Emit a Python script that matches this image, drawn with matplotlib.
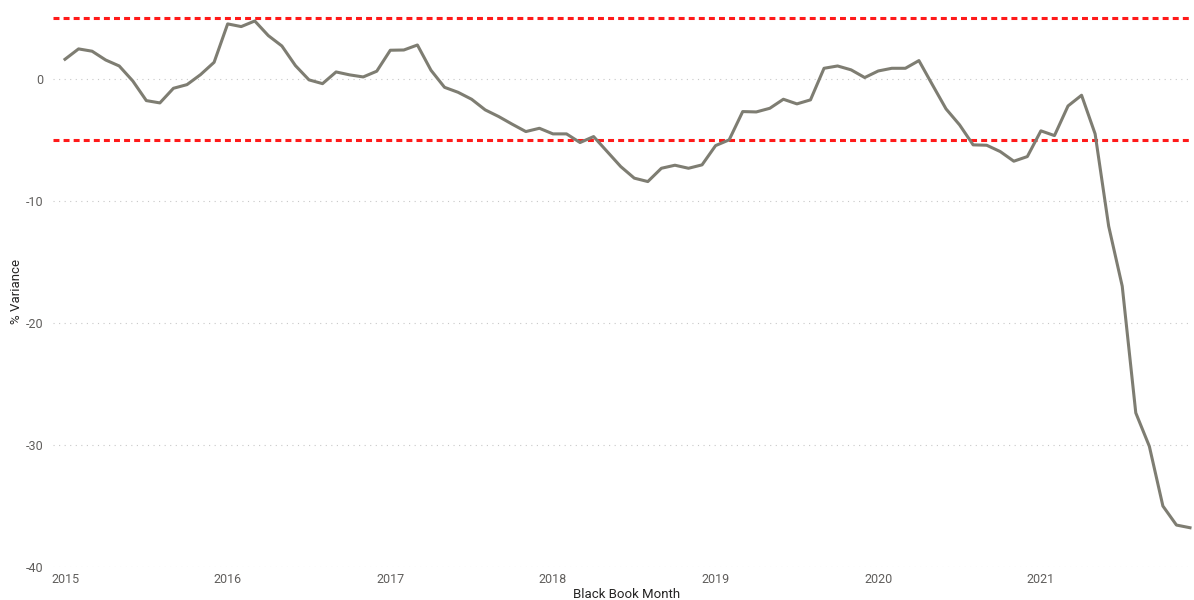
import matplotlib
matplotlib.use("Agg")
import matplotlib.pyplot as plt
import numpy as np

plt.rcParams['font.family'] = ['Roboto', 'DejaVu Sans']

years = ["2015", "2016", "2017", "2018", "2019", "2020", "2021"]
variance = [
    1.64, 2.49, 2.30, 1.58, 1.09, -0.14, -1.75, -1.94, -0.74, -0.44, 0.38, 1.39,
    4.54, 4.32, 4.78, 3.58, 2.73, 1.12, -0.05, -0.36, 0.60, 0.36, 0.19, 0.66,
    2.38, 2.40, 2.81, 0.74, -0.66, -1.07, -1.64, -2.51, -3.06, -3.69, -4.29, -4.02,
    -4.48, -4.48, -5.19, -4.70, -5.93, -7.16, -8.11, -8.39, -7.30, -7.05, -7.30, -7.02,
    -5.44, -4.97, -2.65, -2.68, -2.38, -1.64, -2.02, -1.69, 0.90, 1.09, 0.77, 0.14,
    0.68, 0.90, 0.90, 1.53, -0.46, -2.43, -3.74, -5.38, -5.41, -5.93, -6.72, -6.34,
    -4.23, -4.62, -2.19, -1.31, -4.48, -12.05, -16.97, -27.36, -30.10, -35.00, -36.56, -36.78,
]
upper_limit = 5
lower_limit = -5
yticks = [-40, -30, -20, -10, 0]

fig = plt.figure(figsize=(11.94, 6.0), dpi=100)
ax = fig.add_axes([53/1194, 1 - 567/600, (1192-53)/1194, (567-5)/600])

x = np.arange(len(variance))
ax.plot(x, variance, color='#7E7D72', lw=2.2, solid_joinstyle='round', zorder=3)
ax.axhline(upper_limit, color='#FF1A1A', lw=2.2, ls=(0, (1.95, 1.35)), zorder=2)
ax.axhline(lower_limit, color='#FF1A1A', lw=2.2, ls=(0, (1.95, 1.35)), zorder=2)

ax.set_xlim(-12/13.55, 83 + 2/13.55)
ax.set_ylim(-40, 6.09)
ax.set_yticks(yticks)
ax.set_yticklabels([str(v) for v in yticks])
ax.set_xticks(np.arange(len(years)) * 12)
ax.set_xticklabels(years)

ax.grid(axis='y', color='#C8C8C8', ls=(0, (1, 4)), lw=0.8)
ax.set_axisbelow(True)
for s in ax.spines.values():
    s.set_visible(False)
ax.tick_params(axis='both', length=0, colors='#605E5C', labelsize=9)
ax.tick_params(axis='y', pad=7)
ax.tick_params(axis='x', pad=4)

fig.text(627/1194, 1 - 595/600, "Black Book Month", fontsize=9.5, color='#252423',
         ha='center', va='center')
fig.text(16/1194, 1 - 292/600, "% Variance", fontsize=9.5, color='#252423',
         ha='center', va='center', rotation=90)

fig.savefig("out.png", dpi=100)
